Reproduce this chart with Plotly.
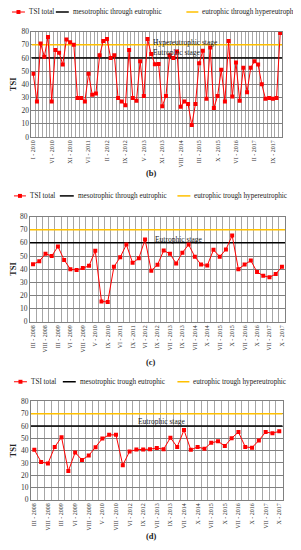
import plotly.graph_objects as go

# The page body adds an 8px margin, so the figure is drawn 8px smaller and
# every reference pixel position is shifted by that offset.
PAGE_W, PAGE_H, OFF = 301, 550, 8
W, H = PAGE_W - OFF, PAGE_H - OFF
FONT = "Liberation Serif"

# ---------------- data ----------------
b_labels = ["I - 2010", "VI - 2010", "XI - 2010", "VI - 2011", "II - 2012", "IX - 2012",
            "V - 2013", "XI - 2013", "VIII - 2014", "III - 2015", "X - 2015", "VI - 2016",
            "II - 2017", "IX - 2017"]
b_tsi = [48, 27, 71, 61, 76, 27, 66, 64, 55, 74,
         72, 70, 29.5, 29.5, 27, 48, 32, 33, 62, 73,
         74.5, 60, 62, 29.5, 27, 24, 66, 29.5, 27.5, 57.5,
         31, 74.5, 63, 55.3, 55.5, 23.3, 31, 62, 60, 65,
         23, 27, 25, 9, 25, 56, 65.5, 29, 68, 22,
         31, 51, 27, 73, 30.8, 56.5, 27.5, 52.5, 34, 52.5,
         57.5, 55, 40, 29, 29.5, 29, 29.5, 79]

c_labels = ["III - 2008", "VIII - 2008", "III - 2009", "VI - 2009", "VIII - 2009", "V - 2010",
            "IX - 2010", "VI - 2011", "IX - 2011", "VI - 2012", "IX - 2012", "VII - 2013",
            "IX - 2013", "VII - 2014", "X - 2014", "VII - 2015", "X - 2015", "VII - 2016",
            "X - 2016", "VII - 2017", "X - 2017"]
c_tsi = [43.8, 46, 51.7, 50, 57.2, 47, 40, 39.3, 40.8, 42.5,
         54, 15.5, 15, 41.8, 49, 58.7, 44.8, 48.3, 62.6, 38.8,
         43.3, 54.2, 51.7, 44.3, 52.5, 58.7, 49.5, 43.5, 42.8, 54.7,
         49.5, 55, 65.6, 40, 43.5, 46.5, 37.8, 35, 33.8, 36.3,
         41.8]

d_labels = ["III - 2008", "VIII - 2008", "III - 2009", "VI - 2009", "VIII - 2009", "V - 2010",
            "VIII - 2010", "VI - 2012", "IX - 2012", "VII - 2013", "IX - 2013", "VII - 2014",
            "X - 2014", "VII - 2015", "X - 2015", "VII - 2016", "X - 2016", "VII - 2017",
            "X - 2017"]
d_tsi = [40.6, 30.8, 29.5, 43, 50.9, 23.4, 38.5, 32.4, 36, 42.7,
         49.8, 52.8, 52.8, 28.1, 39.3, 40.8, 40.8, 41.1, 42.2, 41.1,
         50.4, 43, 56.7, 40.6, 43, 41.4, 46.4, 47.5, 43.8, 50.1,
         55.1, 43, 42.4, 48.3, 55.1, 54.1, 55.7]

MESO_EU = 60      # mesotrophic -> eutrophic threshold
EU_HYPER = 70     # eutrophic -> hypereutrophic threshold
y_ticks = [0, 10, 20, 30, 40, 50, 60, 70, 80]

RED, BLACK, YELLOW = "#ff0000", "#000000", "#ffc000"


def fx(p):
    return (p - OFF) / W


def fy(p):
    return 1 - (p - OFF) / H


panels = [
    dict(labels=b_labels, tsi=b_tsi, every=5, xdom=(30.5, 282), ydom=(28, 135),
         leg_y=8, leg=[(11, 24, 26), (55, 68, 70), (186, 198, 200)],
         texts=["TSI total", "mesotrophic through eutrophic", "eutrophic through hypereutrophic"],
         stages=[("Hypereutrophic stage", 31.9, 71.8), ("Eutrophic stage", 32.0, 64.3)],
         tag="(b)", tag_y=172),
    dict(labels=c_labels, tsi=c_tsi, every=2, xdom=(29, 285), ydom=(216, 323),
         leg_y=195, leg=[(13, 25, 27), (59, 73, 75), (177, 190, 192)],
         texts=["TSI total", "mesotrophic through eutrophic", "eutrophic trough hypereutrophic"],
         stages=[("Eutrophic stage", 19.3, 62.8)],
         tag="(c)", tag_y=364),
    dict(labels=d_labels, tsi=d_tsi, every=2, xdom=(30, 282.6), ydom=(404, 504),
         leg_y=384, leg=[(13, 26, 28), (62, 75, 77), (177, 189, 191)],
         texts=["TSI total", "mesotrophic trough eutrophic", "eutrophic trough hypereutrophic"],
         stages=[("Eutrophic stage", 14.9, 64.0)],
         tag="(d)", tag_y=541),
]

fig = go.Figure()
shapes, annotations = [], []
layout_axes = {}

for i, p in enumerate(panels):
    sfx = "" if i == 0 else str(i + 1)
    xa, ya = "x" + sfx, "y" + sfx
    n = len(p["tsi"])
    xs = list(range(n))
    span = [-0.5, n - 0.5]

    fig.add_trace(go.Scatter(x=span, y=[EU_HYPER, EU_HYPER], mode="lines",
                             line=dict(color=YELLOW, width=1.5), xaxis=xa, yaxis=ya,
                             showlegend=False, hoverinfo="skip"))
    fig.add_trace(go.Scatter(x=span, y=[MESO_EU, MESO_EU], mode="lines",
                             line=dict(color=BLACK, width=1.5), xaxis=xa, yaxis=ya,
                             showlegend=False, hoverinfo="skip"))
    fig.add_trace(go.Scatter(x=xs, y=p["tsi"], mode="lines+markers", name="TSI total",
                             line=dict(color=RED, width=1),
                             marker=dict(symbol="square", size=4, color=RED),
                             xaxis=xa, yaxis=ya, showlegend=False))

    tickvals = [k * p["every"] for k in range(len(p["labels"]))]
    layout_axes["xaxis" + sfx] = dict(
        domain=[fx(p["xdom"][0]), fx(p["xdom"][1])], anchor=ya, range=span,
        tickmode="array", tickvals=tickvals, ticktext=p["labels"], tickangle=-90,
        tickfont=dict(family=FONT, size=6, color="#333333"), showgrid=False,
        ticks="", zeroline=False, showline=True, linecolor="#808080", linewidth=1, mirror=True,
        minor=dict(tickvals=[k - 0.5 for k in range(n + 1)], showgrid=True,
                   gridcolor="#a6a6a6", gridwidth=1, ticks=""),
        fixedrange=True)
    layout_axes["yaxis" + sfx] = dict(
        domain=[fy(p["ydom"][1]), fy(p["ydom"][0])], anchor=xa, range=[0, 80],
        tickmode="array", tickvals=y_ticks,
        tickfont=dict(family=FONT, size=7.5, color="#333333"),
        showgrid=True, gridcolor="#808080", gridwidth=1, zeroline=False,
        showline=True, linecolor="#808080", linewidth=1, mirror=True, ticks="",
        title=dict(text="<b>TSI</b>", font=dict(family=FONT, size=8.5, color="#222222"), standoff=3),
        fixedrange=True)

    # stage labels
    for txt, xv, yv in p["stages"]:
        annotations.append(dict(text=txt, x=xv, y=yv, xref=xa, yref=ya, xanchor="left",
                                yanchor="middle", showarrow=False,
                                font=dict(family=FONT, size=7.5, color="#222222")))

    # legend row
    ly = fy(p["leg_y"])
    colors = [RED, BLACK, YELLOW]
    for (x0, x1, tx), col, txt in zip(p["leg"], colors, p["texts"]):
        shapes.append(dict(type="line", xref="paper", yref="paper", x0=fx(x0), x1=fx(x1),
                           y0=ly, y1=ly, line=dict(color=col, width=1.5 if col != RED else 1)))
        if col == RED:
            cx = (x0 + x1) / 2
            shapes.append(dict(type="rect", xref="paper", yref="paper",
                               x0=fx(cx - 2), x1=fx(cx + 2), y0=fy(p["leg_y"] + 2),
                               y1=fy(p["leg_y"] - 2), fillcolor=RED, line=dict(width=0)))
        annotations.append(dict(text=txt, x=fx(tx), y=ly, xref="paper", yref="paper",
                                xanchor="left", yanchor="middle", showarrow=False,
                                font=dict(family=FONT, size=7.2, color="#222222")))

    annotations.append(dict(text="<b>" + p["tag"] + "</b>", x=fx(150.5), y=fy(p["tag_y"]),
                            xref="paper", yref="paper", xanchor="center", yanchor="middle",
                            showarrow=False, font=dict(family=FONT, size=8.5, color="#222222")))

fig.update_layout(
    width=W, height=H, margin=dict(l=0, r=0, t=0, b=0),
    paper_bgcolor="white", plot_bgcolor="white",
    showlegend=False, shapes=shapes, annotations=annotations,
    font=dict(family=FONT),
    **layout_axes)

fig.write_html("out.html")
